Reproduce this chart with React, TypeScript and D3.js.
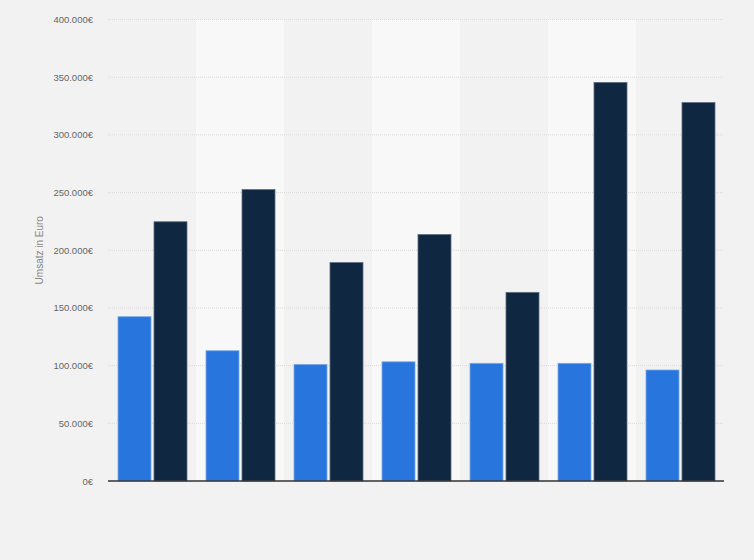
import React, { useRef, useEffect } from 'react';
import * as d3 from 'd3';

// Kategorien (keine Beschriftung im Original sichtbar)
const categories = ['1', '2', '3', '4', '5', '6', '7'];
const seriesLight = [142400, 112900, 101000, 103300, 102000, 102000, 96200];
const seriesDark = [224700, 252600, 189300, 213600, 163500, 345500, 328000];
const yTicks = [0, 50000, 100000, 150000, 200000, 250000, 300000, 350000, 400000];
const yLabel = 'Umsatz in Euro';

const W = 754;
const H = 560;

const App: React.FC = () => {
  const svgRef = useRef<SVGSVGElement | null>(null);

  useEffect(() => {
    document.body.style.margin = '0';
    if (!svgRef.current) return;

    const svg = d3.select(svgRef.current);
    svg.selectAll('*').remove();

    const marginLeft = 108;
    const marginRight = 30;
    const top = 19.5;
    const bottom = 481;

    svg.append('rect')
       .attr('width', W)
       .attr('height', H)
       .attr('fill', '#f2f2f2');

    const xScale = d3.scaleBand()
                     .domain(categories)
                     .range([marginLeft, W - marginRight])
                     .padding(0);

    const xSub = d3.scaleBand()
                   .domain(['light', 'dark'])
                   .range([10, xScale.bandwidth() - 9])
                   .paddingInner(3 / 36)
                   .paddingOuter(0);

    const yScale = d3.scaleLinear()
                     .domain([0, 400000])
                     .range([bottom, top]);

    // alternierende Hintergrundstreifen
    svg.append('g')
       .selectAll('rect')
       .data(categories)
       .enter()
       .append('rect')
       .attr('x', d => xScale(d)!)
       .attr('y', top)
       .attr('width', xScale.bandwidth())
       .attr('height', bottom - top)
       .attr('fill', (_d, i) => (i % 2 === 1 ? '#f8f8f8' : '#f2f2f2'));

    const de = d3.formatLocale({
      decimal: ',',
      thousands: '.',
      grouping: [3],
      currency: ['', '€'],
    });
    const fmt = de.format(',');

    const yAxis = d3.axisLeft(yScale)
                    .tickValues(yTicks)
                    .tickSize(0)
                    .tickPadding(15)
                    .tickFormat((d: any) => `${fmt(d)}€`);

    const yAxisG = svg.append('g')
                      .attr('transform', `translate(${marginLeft}, 0)`)
                      .call(yAxis);

    yAxisG.select('.domain').remove();
    yAxisG.selectAll('text')
          .attr('fill', '#666')
          .attr('font-size', '9.5px')
          .attr('font-family', '"Liberation Sans", Arial, sans-serif');

    // gepunktete Gitterlinien
    svg.append('g')
       .selectAll('line')
       .data(yTicks.filter(t => t > 0))
       .enter()
       .append('line')
       .attr('x1', marginLeft)
       .attr('x2', W - marginRight)
       .attr('y1', d => yScale(d))
       .attr('y2', d => yScale(d))
       .attr('stroke', '#dcdcdc')
       .attr('stroke-width', 1)
       .attr('stroke-dasharray', '1,1');

    const groups = svg.append('g')
                      .selectAll('g')
                      .data(categories)
                      .enter()
                      .append('g')
                      .attr('transform', d => `translate(${xScale(d)}, 0)`);

    groups.append('rect')
          .attr('x', xSub('light')!)
          .attr('y', (_d, i) => yScale(seriesLight[i]))
          .attr('width', xSub.bandwidth())
          .attr('height', (_d, i) => bottom - yScale(seriesLight[i]))
          .attr('fill', '#2876dd')
          .attr('stroke', '#78a9ea')
          .attr('stroke-width', 0.8);

    groups.append('rect')
          .attr('x', xSub('dark')!)
          .attr('y', (_d, i) => yScale(seriesDark[i]))
          .attr('width', xSub.bandwidth())
          .attr('height', (_d, i) => bottom - yScale(seriesDark[i]))
          .attr('fill', '#0f2740')
          .attr('stroke', '#5d6f82')
          .attr('stroke-width', 0.8);

    // x-Achse
    svg.append('line')
       .attr('x1', marginLeft)
       .attr('x2', W - marginRight)
       .attr('y1', bottom)
       .attr('y2', bottom)
       .attr('stroke', '#333')
       .attr('stroke-width', 1.3);

    svg.append('text')
       .attr('transform', `translate(43, ${(top + bottom) / 2}) rotate(-90)`)
       .attr('text-anchor', 'middle')
       .attr('fill', '#888')
       .attr('font-size', '10px')
       .attr('font-family', '"Liberation Sans", Arial, sans-serif')
       .text(yLabel);
  }, []);

  return (
    <svg ref={svgRef} width={W} height={H} style={{ display: 'block' }}></svg>
  );
};

export default App;
